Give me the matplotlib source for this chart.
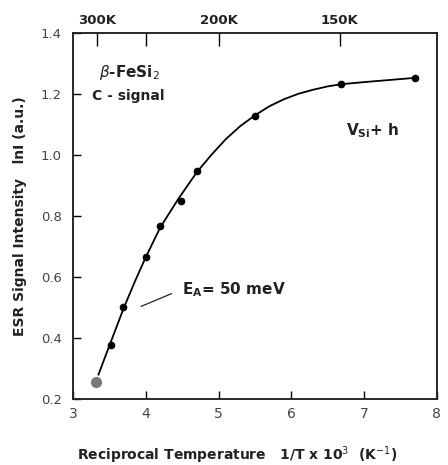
import matplotlib
matplotlib.use("Agg")
import matplotlib.pyplot as plt

# data points (1/T x 10^3, lnI)
x_pts = [3.31, 3.52, 3.69, 4.0, 4.2, 4.48, 4.7, 5.5, 6.68, 7.7]
y_pts = [0.255, 0.378, 0.50, 0.665, 0.767, 0.85, 0.948, 1.128, 1.233, 1.253]

# fitted curve
x_fit = [3.35, 3.5, 3.7, 3.85, 4.0, 4.2, 4.45, 4.7, 4.9, 5.1, 5.3, 5.5, 5.7, 5.9, 6.1, 6.3, 6.5, 6.68, 7.0, 7.35, 7.7]
y_fit = [0.28, 0.375, 0.50, 0.585, 0.665, 0.763, 0.857, 0.943, 1.0, 1.052, 1.095, 1.13, 1.16, 1.183, 1.201, 1.214, 1.225, 1.232, 1.239, 1.246, 1.253]

x_ticks = [3, 4, 5, 6, 7, 8]
y_ticks = [0.2, 0.4, 0.6, 0.8, 1.0, 1.2, 1.4]
top_temps = [300, 250, 200, 150]
top_labels = ["300K", "", "200K", "150K"]

plt.rcParams['font.family'] = ['DejaVu Sans']
fig = plt.figure(figsize=(4.48, 4.65), dpi=100)
ax = fig.add_axes([0.163, 0.142, 0.812, 0.787])

ax.plot(x_fit, y_fit, color='black', lw=1.3)
ax.plot(x_pts[1:], y_pts[1:], 'o', color='black', ms=4.5)
ax.plot(x_pts[:1], y_pts[:1], 'o', color='#777777', ms=7)

ax.set_xlim(3, 8)
ax.set_ylim(0.2, 1.4)
ax.set_xticks(x_ticks)
ax.set_xticklabels([str(t) for t in x_ticks], fontsize=10, color='#444444')
ax.set_yticks(y_ticks)
ax.set_yticklabels([f"{t:.1f}" for t in y_ticks], fontsize=9.5, color='#444444')
ax.tick_params(axis='both', direction='in', length=6, width=1)
ax.tick_params(axis='x', pad=6)
ax.tick_params(axis='y', pad=8)

top = ax.twiny()
top.set_xlim(3, 8)
top.set_xticks([1000.0 / t for t in top_temps])
top.set_xticklabels(top_labels, fontsize=9.5, fontweight='bold', color='#222222')
top.tick_params(axis='x', direction='in', length=9, width=1, pad=4)

for a in (ax, top):
    for s in a.spines.values():
        s.set_linewidth(1.1)
        s.set_color('#222222')

ax.set_ylabel("ESR Signal Intensity   lnI (a.u.)", fontsize=10, fontweight='bold',
              color='#222222', labelpad=10)
ax.set_xlabel("Reciprocal Temperature   1/T x 10$^3$  (K$^{-1}$)", fontsize=10,
              fontweight='bold', color='#222222')
ax.xaxis.set_label_coords(0.45, -0.153)
ax.xaxis.label.set_va('center')

ax.text(3.36, 1.272, r"$\beta$-FeSi$_2$", fontsize=11, fontweight='bold', color='#222222', va='center')
ax.text(3.26, 1.195, "C - signal", fontsize=10, fontweight='bold', color='#222222', va='center')
ax.text(6.75, 1.08, r"V$_{\mathbf{Si}}$+ h", fontsize=11, fontweight='bold', color='#222222', va='center')
ax.text(4.5, 0.557, r"E$_\mathbf{A}$= 50 meV", fontsize=11, fontweight='bold', color='#222222', va='center')
ax.annotate("", xy=(3.9, 0.50), xytext=(4.39, 0.549),
            arrowprops=dict(arrowstyle='-', color='#222222', lw=0.9))

fig.savefig("out.png", dpi=100)
